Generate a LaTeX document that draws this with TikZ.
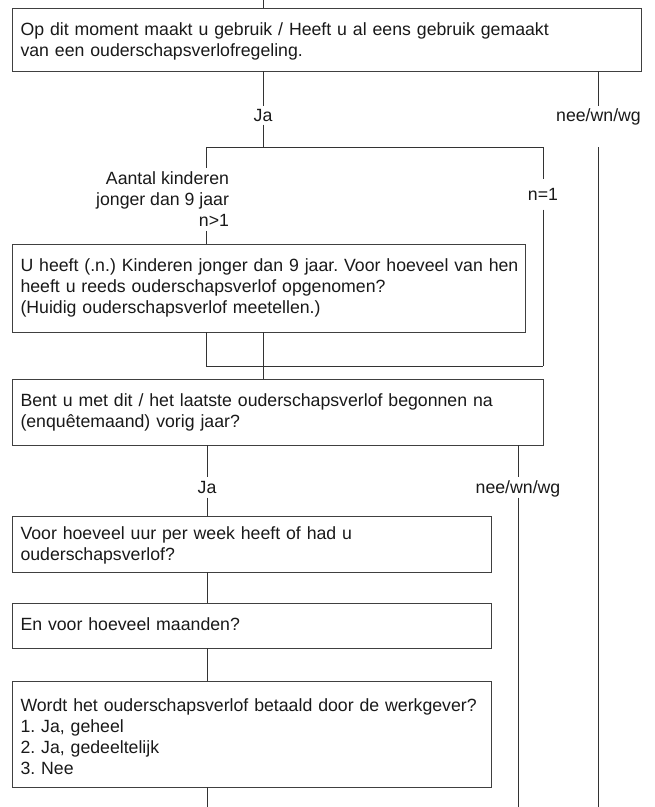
\documentclass[tikz,border=0pt]{standalone}
\usepackage{fontspec}
\setmainfont{Liberation Sans}
\frenchspacing
\begin{document}
\begin{tikzpicture}[x=1bp,y=-1bp,
  every node/.style={font=\fontsize{17.7bp}{21bp}\selectfont, text=black!90, outer sep=0pt},
  qbox/.style={draw=black!75, line width=0.9bp, anchor=north west, inner xsep=8.5bp, inner ysep=0pt, align=left},
  lab/.style={inner xsep=2bp, inner ysep=#1, text height=13bp, text depth=0pt, anchor=base},
  lab/.default=4bp,
  conn/.style={draw=black!80, line width=0.9bp}]
\useasboundingbox (0,0) rectangle (655,807);

% question boxes
\node[qbox, text width=612bp, minimum height=63bp, text depth=20bp] (q1) at (12,8)
  {Op dit moment maakt u gebruik / Heeft u al eens gebruik gemaakt\\van een ouderschapsverlofregeling.};
\node[qbox, text width=496bp, minimum height=88bp, text depth=45bp] (q2) at (12,244)
  {\mbox{U heeft (.n.) Kinderen jonger dan 9 jaar. Voor hoeveel van hen}\\heeft u reeds ouderschapsverlof opgenomen?\\(Huidig ouderschapsverlof meetellen.)};
\node[qbox, text width=514bp, minimum height=66bp, text depth=23bp] (q3) at (12,379)
  {Bent u met dit / het laatste ouderschapsverlof begonnen na\\(enquêtemaand) vorig jaar?};
\node[qbox, text width=462bp, minimum height=56bp, text depth=22.4bp] (q4) at (12,516)
  {Voor hoeveel uur per week heeft of had u\\ouderschapsverlof?};
\node[qbox, text width=462bp, minimum height=45bp, text depth=3bp] (q5) at (12,603)
  {En voor hoeveel maanden?};
\node[qbox, text width=462bp, minimum height=106bp, text depth=58bp] (q6) at (12,681)
  {\mbox{Wordt het ouderschapsverlof betaald door de werkgever?}\\1. Ja, geheel\\2. Ja, gedeeltelijk\\3. Nee};

% labels
\node[lab=3bp] (ja1) at (263,121.5) {Ja};
\node[lab=3bp] (nee1) at (598.5,121.5) {nee/wn/wg};
\node[lab=9bp] (n1) at (543,200.5) {n=1};
\node[anchor=north east, align=right, inner xsep=2bp, inner ysep=4bp] (kids) at (231,168)
  {Aantal kinderen\\jonger dan 9 jaar\\n>1};
\node[lab] (ja2) at (207,493.5) {Ja};
\node[lab] (nee2) at (518,493.5) {nee/wn/wg};

% coordinates
\coordinate (top) at (263,0);
\coordinate (sL) at (206,147);
\coordinate (sR) at (543,147);
\coordinate (jL) at (206,366);
\coordinate (jR) at (543,366);
\coordinate (e1a) at (598.5,147);
\coordinate (e1b) at (598.5,807);
\coordinate (e2) at (518,807);
\coordinate (bot) at (207,807);

% connectors
\draw[conn] (top) -- (top |- q1.north);
\draw[conn] (q1.south -| ja1) -- (ja1.north);
\draw[conn] (ja1.south) -- (ja1 |- sL);
\draw[conn] (q1.south -| nee1) -- (nee1.north);
\draw[conn] (e1a) -- (e1b);
\draw[conn] (sL) -- (sR);
\draw[conn] (sL) -- (kids.north -| sL);
\draw[conn] (kids.south -| sL) -- (q2.north -| sL);
\draw[conn] (sR) -- (n1.north);
\draw[conn] (n1.south) -- (jR);
\draw[conn] (q2.south -| sL) -- (jL);
\draw[conn] (jL) -- (jR);
\draw[conn] (q2.south -| top) -- (q3.north -| top);
\draw[conn] (q3.south -| ja2) -- (ja2.north);
\draw[conn] (ja2.south) -- (q4.north -| ja2);
\draw[conn] (q3.south -| nee2) -- (nee2.north);
\draw[conn] (nee2.south) -- (e2);
\draw[conn] (q4.south -| ja2) -- (q5.north -| ja2);
\draw[conn] (q5.south -| ja2) -- (q6.north -| ja2);
\draw[conn] (q6.south -| ja2) -- (bot);
\end{tikzpicture}
\end{document}
